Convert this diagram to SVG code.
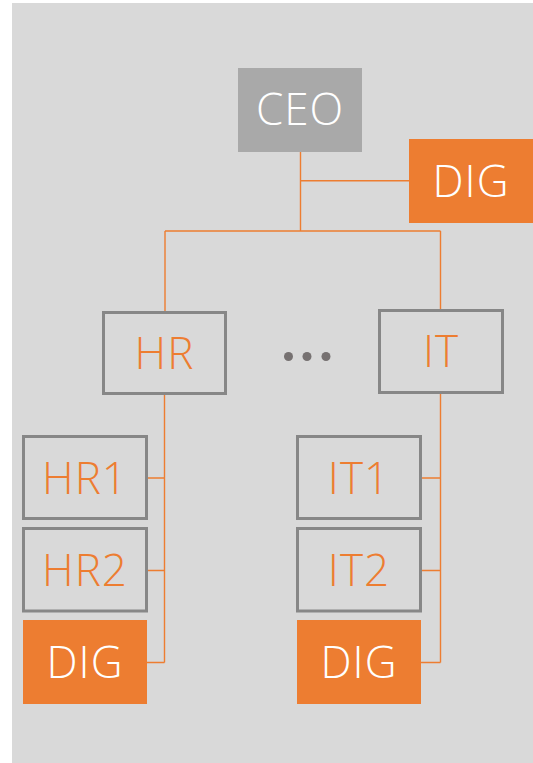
<svg xmlns="http://www.w3.org/2000/svg" width="533" height="763" viewBox="0 0 533 763">
<style>
.bg{fill:#d9d9d9}
.box{fill:#d9d9d9;stroke:#878787;stroke-width:3}
.dig{fill:#ed7d31}
.ceo{fill:#a9a9a9}
.t{font-family:"Open Sans","Lato","Liberation Sans",sans-serif;font-weight:300;font-size:44px;letter-spacing:1px;text-anchor:middle;dominant-baseline:central}
.to{fill:#ed7d31}
.tw{fill:#ffffff}
.ln{fill:none;stroke:#ed7d31;stroke-width:1.4}
</style>
<rect class="bg" x="12" y="3" width="521" height="760"/>
<g id="connectors">
<path class="ln" d="M300.5 152V231M300.5 180.7H409M165 231H440.5M165 231V311M440.5 231V309"/>
<path class="ln" d="M164.5 395V662.5M148 478H164.5M148 570.5H164.5M147 662.5H164.5"/>
<path class="ln" d="M440.5 394V662.5M422 478H440.5M422 570.5H440.5M421 662.5H440.5"/>
</g>
<g id="ceo"><rect class="ceo" x="238" y="68" width="124" height="84"/><text class="t tw" x="300" y="108">CEO</text></g>
<g id="dig-top"><rect class="dig" x="409" y="139" width="124" height="84"/><text class="t tw" x="471" y="180">DIG</text></g>
<g id="hr"><rect class="box" x="103.5" y="312.5" width="122" height="81"/><text class="t to" x="164.5" y="352">HR</text></g>
<g id="dots" fill="#767171"><circle cx="288.5" cy="356.5" r="4.5"/><circle cx="307" cy="356.5" r="4.5"/><circle cx="326" cy="356.5" r="4.5"/></g>
<g id="it"><rect class="box" x="379.5" y="310.5" width="123" height="82"/><text class="t to" x="441" y="350">IT</text></g>
<g id="hr1"><rect class="box" x="23.5" y="436.5" width="123" height="82"/><text class="t to" x="85" y="477">HR1</text></g>
<g id="hr2"><rect class="box" x="23.5" y="528.5" width="123" height="82.5"/><text class="t to" x="85" y="569">HR2</text></g>
<g id="hr-dig"><rect class="dig" x="23" y="620" width="124" height="84"/><text class="t tw" x="85" y="661">DIG</text></g>
<g id="it1"><rect class="box" x="297.5" y="436.5" width="123" height="82"/><text class="t to" x="359" y="477">IT1</text></g>
<g id="it2"><rect class="box" x="297.5" y="528.5" width="123" height="82.5"/><text class="t to" x="359" y="569">IT2</text></g>
<g id="it-dig"><rect class="dig" x="297" y="620" width="124" height="84"/><text class="t tw" x="359" y="661">DIG</text></g>
</svg>
